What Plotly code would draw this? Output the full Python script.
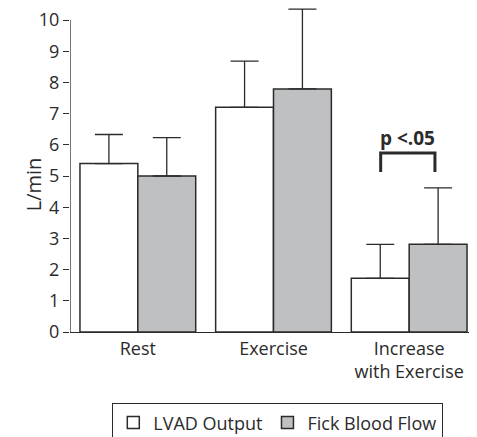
import plotly.graph_objects as go

categories = ["Rest", "Exercise", "Increase<br>with Exercise"]
lvad = [5.4, 7.2, 1.72]
lvad_err = [0.93, 1.48, 1.09]
fick = [5.0, 7.79, 2.81]
fick_err = [1.23, 2.56, 1.81]
yticks = list(range(0, 11))

ink = "#2b2b2b"
font = dict(family="Open Sans", size=18, color=ink)

# the page body adds an 8px margin, so the figure is sized to fit inside it
W, H = 469, 429

fig = go.Figure()
fig.add_trace(go.Bar(x=categories, y=lvad, name="LVAD Output",
                     marker=dict(color="white", line=dict(color=ink, width=1.5)),
                     error_y=dict(type="data", array=lvad_err, symmetric=False, arrayminus=[0, 0, 0],
                                  color=ink, thickness=1.3, width=14),
                     cliponaxis=False))
fig.add_trace(go.Bar(x=categories, y=fick, name="Fick Blood Flow",
                     marker=dict(color="#bfc0c2", line=dict(color=ink, width=1.5)),
                     error_y=dict(type="data", array=fick_err, symmetric=False, arrayminus=[0, 0, 0],
                                  color=ink, thickness=1.3, width=14),
                     cliponaxis=False))

# y axis line only up to 10
fig.add_shape(type="line", xref="x", yref="y", x0=-0.5, x1=-0.5, y0=0, y1=10,
              line=dict(color=ink, width=1.3))

# significance bracket
fig.add_shape(type="path", xref="x", yref="y",
              path="M 1.79 5.13 L 1.79 5.74 L 2.19 5.74 L 2.19 5.13",
              line=dict(color=ink, width=3))
fig.add_annotation(x=1.99, y=6.23, xref="x", yref="y", text="<b>p &lt;.05</b>",
                   showarrow=False, font=dict(family="Open Sans", size=19, color=ink))

# y title
fig.add_annotation(x=-52 / 407, y=4.72, xref="paper", yref="y", text="L/min", textangle=-90,
                   showarrow=False, font=dict(family="Open Sans", size=20, color=ink))

fig.update_layout(
    width=W, height=H,
    margin=dict(l=62, r=0, t=0, b=105),
    paper_bgcolor="white", plot_bgcolor="white",
    font=font,
    barmode="group", bargap=0.147, bargroupgap=0,
    showlegend=True,
    legend=dict(orientation="h", x=104 / W, y=1 - 395 / H, xref="container", yref="container",
                xanchor="left", yanchor="top",
                bordercolor=ink, borderwidth=1.3, font=dict(size=18),
                itemwidth=30, traceorder="normal"),
)
fig.update_xaxes(showline=True, linecolor=ink, linewidth=1.3, ticks="",
                 showgrid=False, range=[-0.5, 2.5], automargin=False)
fig.update_yaxes(range=[0, 10.385], tickvals=yticks, showline=False, ticks="outside",
                 ticklen=6, tickcolor=ink, tickwidth=1.3, showgrid=False, zeroline=False,
                 automargin=False, ticklabeloverflow="allow")

fig.write_html("out.html")
